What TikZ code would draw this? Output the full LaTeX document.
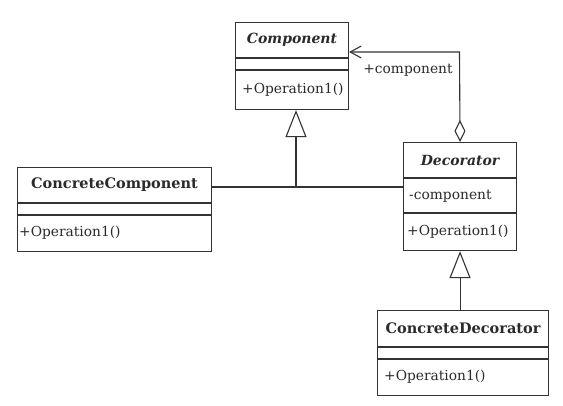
\documentclass[tikz,border=0pt]{standalone}
\usepackage{fontspec}
\setmainfont{DejaVu Serif}
\usetikzlibrary{arrows.meta}
\definecolor{ink}{HTML}{333333}
\definecolor{txt}{HTML}{2A2A2A}
\tikzset{
  classbox/.style={draw=ink, line width=1.1pt, anchor=north west, inner sep=0pt, fill=white},
  sep/.style={draw=ink, line width=1.1pt},
  nametext/.style={text=txt, font=\fontsize{14.5}{16}\selectfont\bfseries, inner sep=0pt},
  abstext/.style={text=txt, font=\fontsize{14}{16}\selectfont\bfseries\itshape, inner sep=0pt},
  membertext/.style={text=txt, font=\fontsize{13.8}{16}\selectfont, inner sep=0pt, anchor=west},
  conn/.style={draw=ink, line width=1.1pt},
  gen/.style={conn, -{Triangle[open, length=27pt, width=21pt, fill=white, line width=1.1pt]}},
  agg/.style={conn, {Diamond[open, length=22pt, width=11pt, fill=white, line width=1.1pt]}-{Straight Barb[length=11pt, width=12pt, line width=1.1pt]}},
}
\begin{document}
\begin{tikzpicture}[x=1pt, y=-1pt]
\useasboundingbox[fill=white] (0,0) rectangle (563,405);

% Component
\node[classbox, minimum width=113pt, minimum height=87pt] (comp) at (235,22) {};
\draw[sep] ([yshift=-36pt]comp.north west) -- ([yshift=-36pt]comp.north east);
\draw[sep] ([yshift=-48pt]comp.north west) -- ([yshift=-48pt]comp.north east);
\node[abstext] (compname) at ([yshift=-18pt]comp.north) {Component};
\node[membertext] (compop) at ([xshift=7pt, yshift=-67.5pt]comp.north west) {+Operation1()};

% ConcreteComponent
\node[classbox, minimum width=194pt, minimum height=84pt] (cc) at (17,167) {};
\draw[sep] ([yshift=-36pt]cc.north west) -- ([yshift=-36pt]cc.north east);
\draw[sep] ([yshift=-48pt]cc.north west) -- ([yshift=-48pt]cc.north east);
\node[nametext] (ccname) at ([yshift=-18pt]cc.north) {ConcreteComponent};
\node[membertext] (ccop) at ([xshift=2pt, yshift=-66pt]cc.north west) {+Operation1()};

% Decorator
\node[classbox, minimum width=113pt, minimum height=108pt] (dec) at (403,142) {};
\draw[sep] ([yshift=-36pt]dec.north west) -- ([yshift=-36pt]dec.north east);
\draw[sep] ([yshift=-71pt]dec.north west) -- ([yshift=-71pt]dec.north east);
\node[abstext] (decname) at ([yshift=-18pt]dec.north) {Decorator};
\node[membertext] (decattr) at ([xshift=6pt, yshift=-54pt]dec.north west) {-component};
\node[membertext] (decop) at ([xshift=4pt, yshift=-89.5pt]dec.north west) {+Operation1()};

% ConcreteDecorator
\node[classbox, minimum width=171pt, minimum height=85pt] (cd) at (377,310) {};
\draw[sep] ([yshift=-37pt]cd.north west) -- ([yshift=-37pt]cd.north east);
\draw[sep] ([yshift=-49pt]cd.north west) -- ([yshift=-49pt]cd.north east);
\node[nametext] (cdname) at ([yshift=-18.5pt]cd.north) {ConcreteDecorator};
\node[membertext] (cdop) at ([xshift=7pt, yshift=-67pt]cd.north west) {+Operation1()};

% connectors
\coordinate (junction) at (296,187);
\draw[conn] (cc.east |- junction) -- (dec.west |- junction);
\draw[gen] (junction) -- (junction |- comp.south);
\draw[gen] (cd.north -| dec.south) -- (dec.south);
\coordinate (bend) at (459.5,52);
\draw[agg] (dec.north) -- (bend) -- (comp.east |- bend);
\node[text=txt, font=\fontsize{13.8}{16}\selectfont, inner sep=0pt] (rolelabel) at (408,70) {+component};
\end{tikzpicture}
\end{document}
